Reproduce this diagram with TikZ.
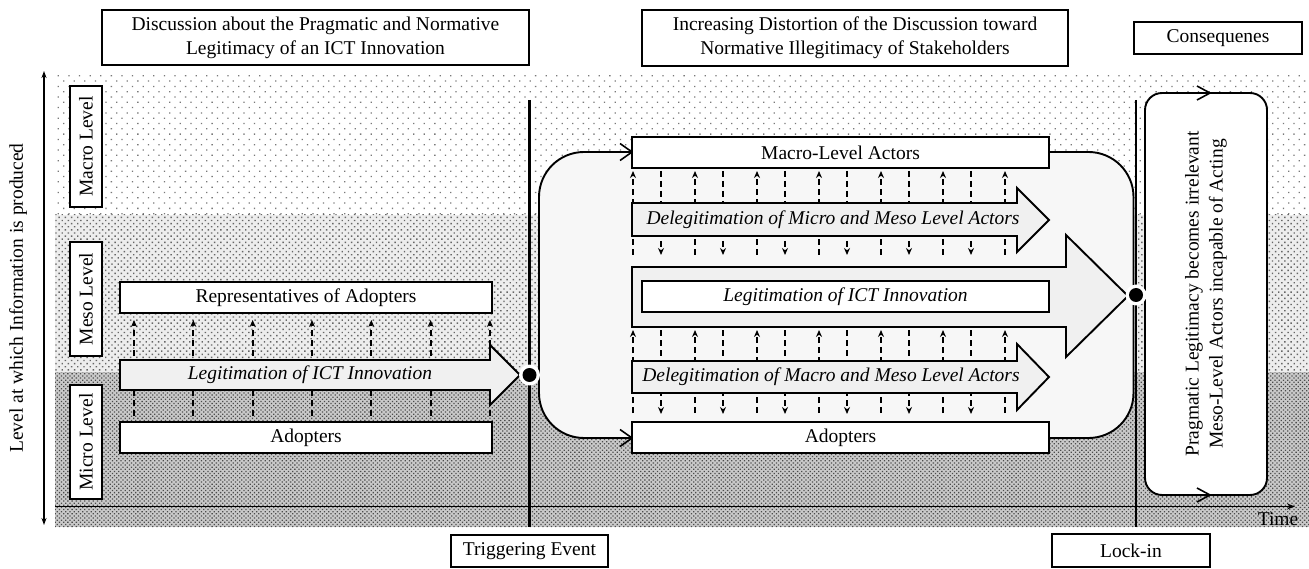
\documentclass[tikz,border=0pt]{standalone}
\usepackage{fontspec}
\setmainfont{Liberation Serif}
\usetikzlibrary{arrows.meta,patterns.meta}
\begin{document}
\begin{tikzpicture}[x=1pt,y=-1pt,
  every node/.style={font=\fontsize{19.5}{24}\selectfont},
  itx/.style={font=\fontsize{19.5}{24}\selectfont\itshape},
  box/.style={draw,line width=1.9pt,fill=white,inner sep=0pt,align=center},
  bigarrow/.style={draw,line width=1.9pt,fill=gray!12,line join=miter},
  flow/.style={line width=1.7pt,dash pattern=on 6pt off 4pt,-{Stealth[length=7pt,width=6pt]}},
  openhead/.style={line width=1.6pt,line join=miter},
  divider/.style={line width=2.2pt},
]
\useasboundingbox (0,0) rectangle (1309,569);

% background bands
\fill[white] (55,73) rectangle (1309,215);
\fill[pattern={Dots[distance=7.5pt,angle=45,radius=0.9pt]},pattern color=gray!95!black] (55,73) rectangle (1309,215);
\fill[gray!14] (55,215) rectangle (1309,372);
\fill[pattern={Dots[distance=4.4pt,angle=45,radius=1pt]},pattern color=black!60] (55,215) rectangle (1309,372);
\fill[gray!42] (55,372) rectangle (1309,527);
\fill[pattern={Dots[distance=3pt,angle=45,radius=0.9pt]},pattern color=black!70] (55,372) rectangle (1309,527);

% axes
\draw[line width=1.6pt,{Stealth[length=7pt,width=5pt]}-{Stealth[length=7pt,width=5pt]}] (44,71) -- (44,525);
\node[rotate=90] (ylab) at (18,298) {Level at which Information is produced};
\draw[line width=1.8pt,-{Stealth[length=8pt,width=6pt]}] (55,506.5) -- (1295,506.5);
\node (time) at (1278,519) {Time};

% dividers
\draw[divider] (529.5,100) -- (529.5,527);
\draw[divider] (1136,100) -- (1136,527);

% level boxes
\node[box,rotate=90,minimum width=121pt,minimum height=32pt] (macl) at (86,146.5) {Macro Level};
\node[box,rotate=90,minimum width=114pt,minimum height=32pt] (mesl) at (86,299) {Meso Level};
\node[box,rotate=90,minimum width=114pt,minimum height=32pt] (micl) at (86,442) {Micro Level};

% left phase
\foreach \i in {0,...,6} \draw[flow] ({134+\i*59.33},416) -- ({134+\i*59.33},320);
\draw[bigarrow] (120,360) -- (490,360) -- (490,345) -- (520,375) -- (490,405) -- (490,390) -- (120,390) -- cycle;
\node[itx] (legl) at (310,375) {Legitimation of ICT Innovation};
\node[box,minimum width=372pt,minimum height=31pt] (rep) at (306,297.5) {Representatives of Adopters};
\node[box,minimum width=372pt,minimum height=31pt] (adl) at (306,437.5) {Adopters};

% middle phase
\draw[line width=1.9pt,fill=gray!6,rounded corners=45pt] (539,152) rectangle (1133.5,438);
\draw[openhead] (620,143.5) -- (632,152) -- (620,160.5);
\draw[openhead] (620,429.5) -- (632,438) -- (620,446.5);

\foreach \i in {0,...,6} \draw[flow] ({633+\i*62},255) -- ({633+\i*62},171);
\foreach \i in {0,...,5} \draw[flow] ({661+\i*62},171) -- ({661+\i*62},255);
\foreach \i in {0,...,6} \draw[flow] ({633+\i*62},413) -- ({633+\i*62},330);
\foreach \i in {0,...,5} \draw[flow] ({661+\i*62},330) -- ({661+\i*62},414);

\draw[bigarrow] (632,203) -- (1017,203) -- (1017,188) -- (1049,220) -- (1017,252) -- (1017,236) -- (632,236) -- cycle;
\node[itx] (delmic) at (833,220) {Delegitimation of Micro and Meso Level Actors};
\draw[bigarrow] (632,267) -- (1066,267) -- (1066,235) -- (1128,296) -- (1066,357) -- (1066,327) -- (632,327) -- cycle;
\node[box,itx,minimum width=407pt,minimum height=31pt] (legm) at (845.5,296.5) {Legitimation of ICT Innovation};
\draw[bigarrow] (632,361) -- (1017,361) -- (1017,344) -- (1049,377) -- (1017,410) -- (1017,393) -- (632,393) -- cycle;
\node[itx] (delmac) at (831,377) {Delegitimation of Macro and Meso Level Actors};

\node[box,minimum width=417pt,minimum height=31pt] (mac) at (840.5,152.5) {Macro-Level Actors};
\node[box,minimum width=417pt,minimum height=31pt] (adm) at (840.5,437.5) {Adopters};

% consequences
\node[box,rotate=90,rounded corners=17pt,minimum width=402pt,minimum height=122pt] (cons) at (1206,294) {Pragmatic Legitimacy becomes irrelevant\\Meso-Level Actors incapable of Acting};
\draw[openhead] (1197,86) -- (1210,93) -- (1197,100);
\draw[openhead] (1197,488) -- (1210,495) -- (1197,502);

% events
\fill[white] (529.5,375) circle (10.5pt);
\fill[black] (529.5,375) circle (7pt);
\fill[white] (1136,295) circle (10.5pt);
\fill[black] (1136,295) circle (7pt);

% titles
\node[box,minimum width=427pt,minimum height=55pt] (t1) at (315.5,37.5) {Discussion about the Pragmatic and Normative\\Legitimacy of an ICT Innovation};
\node[box,minimum width=426pt,minimum height=56pt] (t2) at (855,38) {Increasing Distortion of the Discussion toward\\Normative Illegitimacy of Stakeholders};
\node[box,minimum width=168pt,minimum height=32pt] (t3) at (1218,38) {Consequenes};
\node[box,minimum width=157pt,minimum height=32pt] (trig) at (529.5,551) {Triggering Event};
\node[box,minimum width=158pt,minimum height=33pt] (lock) at (1131,550.5) {Lock-in};
\end{tikzpicture}
\end{document}
